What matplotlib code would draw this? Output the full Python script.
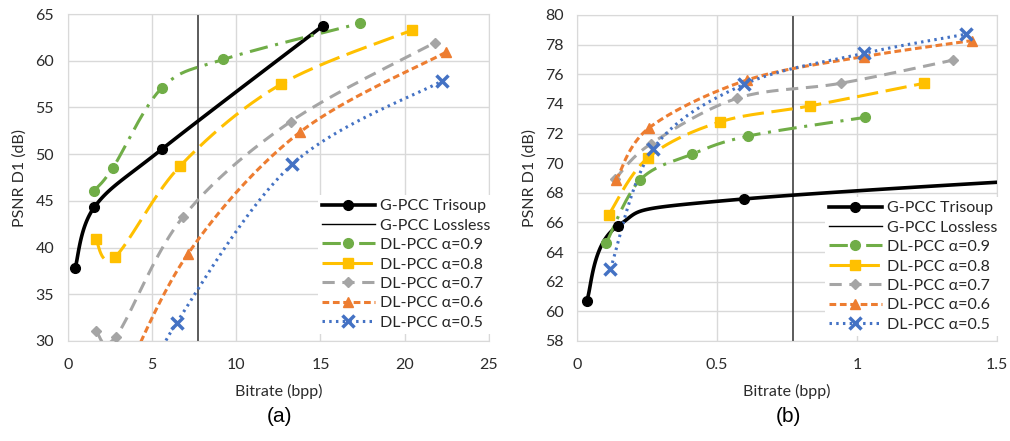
import numpy as np
import matplotlib.pyplot as plt
from matplotlib.lines import Line2D

plt.rcParams['font.family'] = ['Lato', 'DejaVu Sans']

# ---- data: (a) ----
a_trisoup_x = [0.43, 1.56, 5.57, 15.12]
a_trisoup_y = [37.85, 44.31, 50.52, 63.72]
a_lossless = 7.71
a_09_x = [1.56, 2.67, 5.59, 9.23, 17.33]
a_09_y = [46.09, 48.55, 57.12, 60.15, 64.0]
a_08_x = [1.64, 2.77, 6.68, 12.63, 20.45]
a_08_y = [40.92, 38.96, 48.77, 57.47, 63.29]
a_07_x = [1.66, 2.85, 6.82, 13.22, 21.78]
a_07_y = [31.07, 30.47, 43.24, 53.48, 61.93]
a_06_x = [2.8, 7.11, 13.77, 22.43]
a_06_y = [23.8, 39.28, 52.34, 60.9]
a_05_x = [5.0, 6.46, 13.32, 22.21]
a_05_y = [26.0, 31.96, 48.91, 57.83]

# ---- data: (b) ----
b_trisoup_x = [0.033, 0.145, 0.595, 2.8]
b_trisoup_y = [60.67, 65.76, 67.58, 70.1]
b_lossless = 0.77
b_09_x = [0.104, 0.224, 0.410, 0.612, 1.030]
b_09_y = [64.63, 68.86, 70.6, 71.83, 73.09]
b_08_x = [0.112, 0.253, 0.510, 0.832, 1.240]
b_08_y = [66.5, 70.37, 72.78, 73.86, 75.39]
b_07_x = [0.134, 0.262, 0.572, 0.942, 1.345]
b_07_y = [68.9, 71.29, 74.38, 75.39, 76.96]
b_06_x = [0.139, 0.258, 0.607, 1.025, 1.411]
b_06_y = [68.86, 72.4, 75.61, 77.19, 78.27]
b_05_x = [0.118, 0.271, 0.597, 1.025, 1.390]
b_05_y = [62.83, 70.96, 75.32, 77.41, 78.70]

labels = ['G-PCC Trisoup', 'G-PCC Lossless', 'DL-PCC α=0.9', 'DL-PCC α=0.8',
          'DL-PCC α=0.7', 'DL-PCC α=0.6', 'DL-PCC α=0.5']

# colour, dash pattern, marker, marker size
styles = {
    'trisoup': ('black', '-', 'o', 7),
    '0.9': ('#70AD47', (0, (6, 2.5, 1, 2.5)), 'o', 7),
    '0.8': ('#FFC000', (0, (7, 2.5)), 's', 7),
    '0.7': ('#A5A5A5', (0, (4, 2.5)), 'D', 5),
    '0.6': ('#ED7D31', (0, (2.2, 1.2)), '^', 7),
    '0.5': ('#4472C4', (0, (0.8, 1.4)), 'x', 9),
}


def smooth(x, y, xr, yr, n=40):
    # bezier smoothing like a spreadsheet "smoothed line", done in screen units
    p = np.column_stack([np.asarray(x) / xr, np.asarray(y) / yr])
    p = np.vstack([p[0], p, p[-1]])
    out = []
    for i in range(1, len(p) - 2):
        p0, p1, p2, p3 = p[i - 1], p[i], p[i + 1], p[i + 2]
        c1 = p1 + (p2 - p0) / 6
        c2 = p2 - (p3 - p1) / 6
        t = np.linspace(0, 1, n)[:, None]
        seg = ((1 - t) ** 3 * p1 + 3 * (1 - t) ** 2 * t * c1
               + 3 * (1 - t) * t ** 2 * c2 + t ** 3 * p2)
        out.append(seg)
    out = np.vstack(out)
    return out[:, 0] * xr, out[:, 1] * yr


def series(ax, x, y, key, xr, yr, lw=2.2):
    c, ls, m, ms = styles[key]
    sx, sy = smooth(x, y, xr, yr)
    ax.plot(sx, sy, color=c, linestyle=ls, lw=(2.6 if key == 'trisoup' else lw), zorder=3)
    mew = 2.5 if m == 'x' else 1
    ax.plot(x, y, linestyle='none', marker=m, ms=ms, color=c, mec=c, mew=mew, zorder=4)


def handles():
    h = []
    for key in ['trisoup', None, '0.9', '0.8', '0.7', '0.6', '0.5']:
        if key is None:
            h.append(Line2D([], [], color='black', lw=1))
            continue
        c, ls, m, ms = styles[key]
        h.append(Line2D([], [], color=c, linestyle=ls, lw=(2.6 if key == 'trisoup' else 2.2),
                        marker=m, ms=ms, mew=(2.5 if m == 'x' else 1)))
    return h


fig = plt.figure(figsize=(10.1, 4.41), dpi=100)
ax1 = fig.add_axes([0.0673, 0.227, 0.4167, 0.741])
ax2 = fig.add_axes([0.5716, 0.227, 0.4152, 0.739])

text_c = '#2b2b2b'
for ax in (ax1, ax2):
    ax.grid(True, color='#D9D9D9', lw=1)
    ax.set_axisbelow(True)
    for s in ax.spines.values():
        s.set_color('#D9D9D9')
    ax.tick_params(length=0, labelsize=11.5, labelcolor=text_c)
    ax.tick_params(axis='x', pad=12)
    ax.tick_params(axis='y', pad=10)
    ax.set_ylabel('PSNR D1 (dB)', fontsize=11.5, color=text_c, labelpad=6)
    ax.set_xlabel('Bitrate (bpp)', fontsize=11.5, color=text_c, labelpad=9)

# (a)
xr, yr = 25, 35
ax1.set_xlim(0, 25)
ax1.set_ylim(30, 65)
ax1.set_xticks(np.arange(0, 26, 5))
ax1.set_yticks(np.arange(30, 66, 5))
ax1.axvline(a_lossless, color='#404040', lw=1.2, zorder=2)
series(ax1, a_trisoup_x, a_trisoup_y, 'trisoup', xr, yr)
series(ax1, a_09_x, a_09_y, '0.9', xr, yr)
series(ax1, a_08_x, a_08_y, '0.8', xr, yr)
series(ax1, a_07_x, a_07_y, '0.7', xr, yr)
series(ax1, a_06_x, a_06_y, '0.6', xr, yr)
series(ax1, a_05_x, a_05_y, '0.5', xr, yr)

# (b)
xr, yr = 1.5, 22
ax2.set_xlim(0, 1.5)
ax2.set_ylim(58, 80)
ax2.set_xticks([0, 0.5, 1, 1.5])
ax2.set_xticklabels(['0', '0.5', '1', '1.5'])
ax2.set_yticks(np.arange(58, 81, 2))
ax2.axvline(b_lossless, color='#404040', lw=1.2, zorder=2)
series(ax2, b_trisoup_x, b_trisoup_y, 'trisoup', xr, yr)
series(ax2, b_09_x, b_09_y, '0.9', xr, yr)
series(ax2, b_08_x, b_08_y, '0.8', xr, yr)
series(ax2, b_07_x, b_07_y, '0.7', xr, yr)
series(ax2, b_06_x, b_06_y, '0.6', xr, yr)
series(ax2, b_05_x, b_05_y, '0.5', xr, yr)

for ax, anchor in ((ax1, (318 / 1010, 1 - 195 / 441)), (ax2, (825 / 1010, 1 - 197 / 441))):
    leg = fig.legend(handles(), labels, loc='upper left', bbox_to_anchor=anchor,
                     fontsize=11.5, handlelength=3.3, labelspacing=0.33, handletextpad=0.35,
                     borderpad=0.25, frameon=True, fancybox=False, borderaxespad=0)
    leg.get_frame().set_facecolor('white')
    leg.get_frame().set_edgecolor('none')
    leg.get_frame().set_alpha(1)
    for t in leg.get_texts():
        t.set_color('#262626')

fig.text(279 / 1010, 1 - 417 / 441, '(a)', ha='center', va='center', fontsize=15,
         family='Liberation Sans')
fig.text(788 / 1010, 1 - 417 / 441, '(b)', ha='center', va='center', fontsize=15,
         family='Liberation Sans')

fig.savefig('out.png', dpi=100)
